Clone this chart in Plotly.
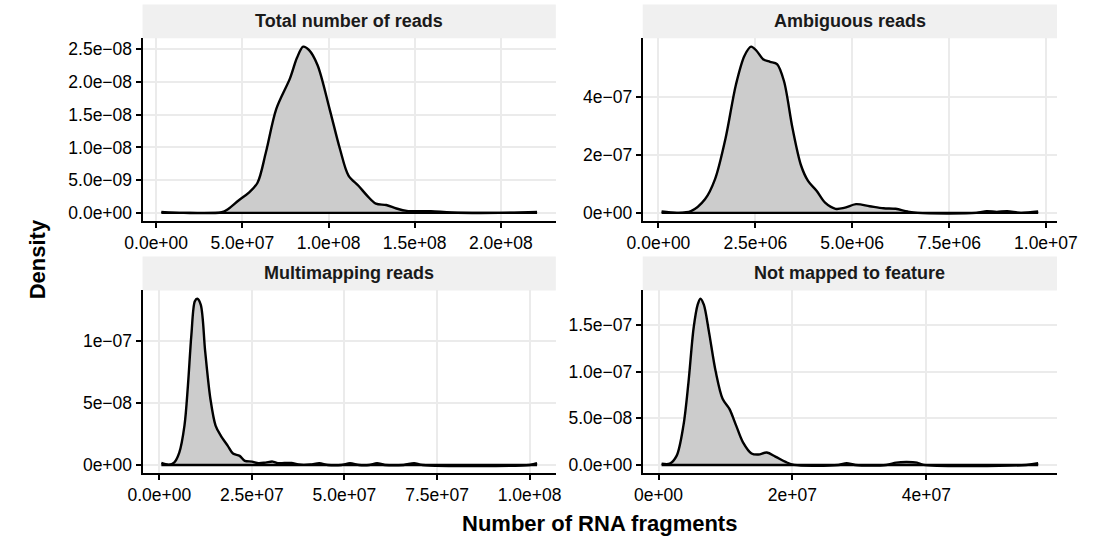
import plotly.graph_objects as go

# Kernel density outlines, one set per facet (x = fragments, y = density)
total_x = [3.0e6, 1.6e7, 3.8e7, 4.18e7, 4.78e7, 5.38e7, 5.88e7, 6.37e7, 6.97e7, 7.77e7,
           8.17e7, 8.53e7, 8.86e7, 9.36e7, 1.006e8, 1.066e8, 1.116e8, 1.175e8, 1.225e8,
           1.275e8, 1.335e8, 1.394e8, 1.454e8, 1.594e8, 1.713e8, 1.992e8, 2.21e8]
total_y = [1.5e-10, 0.0, 1.0e-10, 6.0e-10, 1.9e-9, 3.1e-9, 4.6e-9, 9.3e-9, 1.59e-8, 2.06e-8,
           2.37e-8, 2.54e-8, 2.49e-8, 2.26e-8, 1.59e-8, 9.8e-9, 5.7e-9, 4.1e-9, 2.6e-9,
           1.4e-9, 1.2e-9, 6.7e-10, 3.0e-10, 2.6e-10, 5.0e-11, 0.0, 1.5e-10]

ambig_x = [8.0e4, 4.9e5, 8.4e5, 1.2e6, 1.46e6, 1.73e6, 2.0e6, 2.22e6, 2.39e6, 2.53e6,
           2.70e6, 2.88e6, 3.06e6, 3.24e6, 3.46e6, 3.68e6, 3.86e6, 4.08e6, 4.30e6,
           4.57e6, 4.79e6, 5.10e6, 5.45e6, 5.81e6, 6.12e6, 6.43e6, 6.69e6, 8.2e6,
           8.47e6, 8.73e6, 9.0e6, 9.35e6, 9.8e6]
ambig_y = [4.7e-9, 0.0, 5.8e-9, 4.65e-8, 1.16e-7, 2.56e-7, 4.42e-7, 5.41e-7, 5.72e-7, 5.58e-7,
           5.29e-7, 5.2e-7, 5.12e-7, 4.53e-7, 2.91e-7, 1.63e-7, 1.1e-7, 7.6e-8, 3.5e-8,
           1.4e-8, 1.7e-8, 3.0e-8, 2.3e-8, 1.6e-8, 1.4e-8, 4.7e-9, 0.0, 0.0,
           5.8e-9, 3.5e-9, 5.8e-9, 0.0, 4.7e-9]

multi_x = [5.6e5, 2.6e6, 4.0e6, 5.4e6, 6.8e6, 7.74e6, 8.67e6, 9.6e6, 1.025e7, 1.119e7,
           1.24e7, 1.38e7, 1.52e7, 1.66e7, 1.85e7, 1.99e7, 2.17e7, 2.31e7, 2.5e7,
           2.68e7, 2.87e7, 3.06e7, 3.2e7, 3.38e7, 3.57e7, 3.76e7, 4.08e7, 4.32e7,
           4.55e7, 4.92e7, 5.15e7, 5.39e7, 5.67e7, 5.88e7, 6.09e7, 6.6e7, 6.88e7,
           7.11e7, 1.0e8, 1.02e8]
multi_y = [1.6e-9, 2.7e-10, 1.9e-9, 1.0e-8, 3.17e-8, 6.42e-8, 1.049e-7, 1.32e-7, 1.34e-7, 1.293e-7,
           9.13e-8, 5.34e-8, 3.17e-8, 2.36e-8, 1.54e-8, 9.2e-9, 7.3e-9, 3.3e-9, 2.7e-9,
           1.4e-9, 1.9e-9, 2.7e-9, 1.4e-9, 1.6e-9, 1.6e-9, 3.0e-10, 3.0e-10, 1.4e-9,
           0.0, 0.0, 1.4e-9, 0.0, 0.0, 1.4e-9, 0.0, 0.0, 1.4e-9,
           0.0, 0.0, 1.4e-9]

notmap_x = [4.6e5, 1.68e6, 2.7e6, 3.72e6, 4.48e6, 5.24e6, 5.85e6, 6.26e6, 6.77e6, 7.53e6,
            8.55e6, 9.57e6, 1.059e7, 1.16e7, 1.262e7, 1.389e7, 1.491e7, 1.618e7, 1.745e7,
            1.898e7, 2.025e7, 2.687e7, 2.81e7, 2.94e7, 3.4e7, 3.55e7, 3.7e7, 3.86e7,
            3.96e7, 5.49e7, 5.67e7]
notmap_y = [1.4e-9, 1.4e-9, 9.7e-9, 4.22e-8, 8.9e-8, 1.467e-7, 1.72e-7, 1.784e-7, 1.72e-7, 1.431e-7,
            9.99e-8, 7.1e-8, 6.02e-8, 4.22e-8, 2.42e-8, 1.23e-8, 1.12e-8, 1.33e-8, 9.0e-9,
            3.2e-9, 0.0, 0.0, 1.8e-9, 0.0, 0.0, 2.5e-9, 3.2e-9, 2.5e-9,
            0.0, 0.0, 1.8e-9]

# Facet titles
facet_titles = ["Total number of reads", "Ambiguous reads",
                "Multimapping reads", "Not mapped to feature"]

# Tick positions and labels per facet
total_xticks = [0, 5e7, 1e8, 1.5e8, 2e8]
total_xlabels = ["0.0e+00", "5.0e+07", "1.0e+08", "1.5e+08", "2.0e+08"]
total_yticks = [0, 5e-9, 1e-8, 1.5e-8, 2e-8, 2.5e-8]
total_ylabels = ["0.0e+00", "5.0e\u221209", "1.0e\u221208", "1.5e\u221208", "2.0e\u221208", "2.5e\u221208"]

ambig_xticks = [0, 2.5e6, 5e6, 7.5e6, 1e7]
ambig_xlabels = ["0.0e+00", "2.5e+06", "5.0e+06", "7.5e+06", "1.0e+07"]
ambig_yticks = [0, 2e-7, 4e-7]
ambig_ylabels = ["0e+00", "2e\u221207", "4e\u221207"]

multi_xticks = [0, 2.5e7, 5e7, 7.5e7, 1e8]
multi_xlabels = ["0.0e+00", "2.5e+07", "5.0e+07", "7.5e+07", "1.0e+08"]
multi_yticks = [0, 5e-8, 1e-7]
multi_ylabels = ["0e+00", "5e\u221208", "1e\u221207"]

notmap_xticks = [0, 2e7, 4e7]
notmap_xlabels = ["0e+00", "2e+07", "4e+07"]
notmap_yticks = [0, 5e-8, 1e-7, 1.5e-7]
notmap_ylabels = ["0.0e+00", "5.0e\u221208", "1.0e\u221207", "1.5e\u221207"]

W, H = 1105, 542
FONT = "Liberation Sans, Arial, Helvetica, sans-serif"
TICK_SIZE = 17.5
STRIP_SIZE = 18
TITLE_SIZE = 22
FILL = "rgb(204,204,204)"
GRID = "rgb(235,235,235)"
STRIP_BG = "rgb(240,240,240)"

# Panel boxes in pixels: (left, right, top, bottom)
col_px = [(129, 557), (647, 1076)]
row_px = [(38.5, 222), (291.5, 475)]
strip_h = 34


def px_x(p):
    return p / W


def px_y(p):
    return 1 - p / H


facets = [
    (total_x, total_y, total_xticks, total_xlabels, total_yticks, total_ylabels, 0, 0),
    (ambig_x, ambig_y, ambig_xticks, ambig_xlabels, ambig_yticks, ambig_ylabels, 0, 1),
    (multi_x, multi_y, multi_xticks, multi_xlabels, multi_yticks, multi_ylabels, 1, 0),
    (notmap_x, notmap_y, notmap_xticks, notmap_xlabels, notmap_yticks, notmap_ylabels, 1, 1),
]

fig = go.Figure()
layout = dict(
    width=W, height=H,
    margin=dict(l=0, r=0, t=0, b=0),
    paper_bgcolor="white", plot_bgcolor="white",
    showlegend=False,
    font=dict(family=FONT, color="black", size=TICK_SIZE),
)
shapes = []
annotations = []

for i, (xs, ys, xt, xl, yt, yl, r, c) in enumerate(facets):
    n = "" if i == 0 else str(i + 1)
    xa, ya = "x" + n, "y" + n
    # filled density curve
    fig.add_trace(go.Scatter(
        x=xs, y=ys, xaxis=xa, yaxis=ya, mode="lines",
        line=dict(color="black", width=2.4, shape="spline", smoothing=0.9),
        fill="tozeroy", fillcolor=FILL, hoverinfo="skip",
    ))
    # baseline closing the density polygon
    fig.add_trace(go.Scatter(
        x=[xs[0], xs[-1]], y=[0, 0], xaxis=xa, yaxis=ya, mode="lines",
        line=dict(color="black", width=2.4), hoverinfo="skip",
    ))

    xr = max(xs) - min(xs)
    ymax = max(ys)
    left, right = col_px[c]
    top, bottom = row_px[r]
    axis_common = dict(
        showgrid=True, gridcolor=GRID, gridwidth=1.8,
        zeroline=False, showline=True, linecolor="black", linewidth=2,
        ticks="outside", ticklen=5, tickwidth=1.6, tickcolor="black",
        tickfont=dict(family=FONT, size=TICK_SIZE, color="black"),
        tickmode="array", fixedrange=True,
    )
    layout["xaxis" + n] = dict(
        axis_common,
        domain=[px_x(left), px_x(right)], anchor=ya,
        range=[min(xs) - 0.05 * xr, max(xs) + 0.05 * xr],
        tickvals=xt, ticktext=xl,
    )
    layout["yaxis" + n] = dict(
        axis_common,
        domain=[px_y(bottom), px_y(top)], anchor=xa,
        range=[-0.05 * ymax, 1.05 * ymax],
        tickvals=yt, ticktext=yl,
    )
    # facet strip
    shapes.append(dict(
        type="rect", xref="paper", yref="paper", layer="below",
        x0=px_x(left), x1=px_x(right), y0=px_y(top), y1=px_y(top - strip_h),
        fillcolor=STRIP_BG, line=dict(width=0),
    ))
    annotations.append(dict(
        text="<b>%s</b>" % facet_titles[i], xref="paper", yref="paper",
        x=px_x((left + right) / 2), y=px_y(top - strip_h / 2),
        showarrow=False, xanchor="center", yanchor="middle",
        font=dict(family=FONT, size=STRIP_SIZE, color="rgb(26,26,26)"),
    ))

annotations.append(dict(
    text="<b>Number of RNA fragments</b>", xref="paper", yref="paper",
    x=px_x((129 + 1076) / 2), y=px_y(525), showarrow=False,
    xanchor="center", yanchor="middle",
    font=dict(family=FONT, size=TITLE_SIZE, color="black"),
))
annotations.append(dict(
    text="<b>Density</b>", xref="paper", yref="paper",
    x=px_x(20), y=px_y(260), showarrow=False, textangle=-90,
    xanchor="center", yanchor="middle",
    font=dict(family=FONT, size=TITLE_SIZE, color="black"),
))

layout["shapes"] = shapes
layout["annotations"] = annotations
fig.update_layout(**layout)
fig.write_html("out.html", config={"displayModeBar": False})
